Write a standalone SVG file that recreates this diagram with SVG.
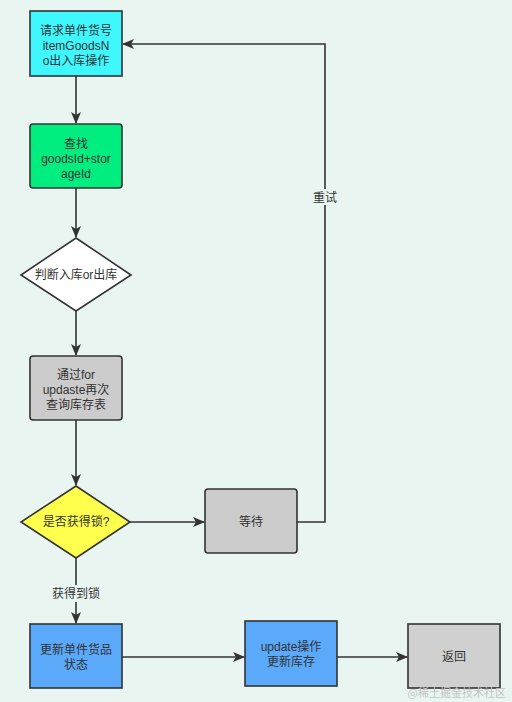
<svg xmlns="http://www.w3.org/2000/svg" width="512" height="702" viewBox="0 0 512 702">
<style>
.n{stroke:#333;stroke-width:1.6}
.t{font-family:"Liberation Sans","Noto Sans CJK SC",sans-serif;font-size:12px;fill:#333;text-anchor:middle}
.c{fill:none;stroke:#333;stroke-width:1.6}
.l{font-family:"Liberation Sans","Noto Sans CJK SC",sans-serif;font-size:12px;fill:#333;text-anchor:middle}
</style>
<defs>
<marker id="ah" markerWidth="12" markerHeight="10" refX="11" refY="5" orient="auto" markerUnits="userSpaceOnUse">
<path d="M0,0 L12,5 L0,10 L3,5 Z" fill="#333"/>
</marker>
</defs>
<rect width="512" height="702" fill="#e9f5f1"/>
<g id="connectors">
<line class="c" x1="76" y1="76" x2="76" y2="123" marker-end="url(#ah)"/>
<line class="c" x1="76" y1="188" x2="76" y2="237" marker-end="url(#ah)"/>
<line class="c" x1="76" y1="311" x2="76" y2="355" marker-end="url(#ah)"/>
<line class="c" x1="76" y1="420" x2="76" y2="485" marker-end="url(#ah)"/>
<line class="c" x1="130" y1="522" x2="204" y2="522" marker-end="url(#ah)"/>
<polyline class="c" points="297,522 325,522 325,44 123,44" marker-end="url(#ah)"/>
<rect x="311" y="189" width="28" height="16" fill="#e9f5f1"/>
<text class="l" x="325" y="202">重试</text>
<line class="c" x1="76" y1="558" x2="76" y2="623" marker-end="url(#ah)"/>
<rect x="51" y="585" width="50" height="17" fill="#e9f5f1"/>
<text class="l" x="76" y="598">获得到锁</text>
<line class="c" x1="122" y1="657" x2="244" y2="657" marker-end="url(#ah)"/>
<line class="c" x1="337" y1="657" x2="407" y2="657" marker-end="url(#ah)"/>
</g>
<g id="n1">
<rect class="n" x="30" y="11" width="92" height="65" fill="#3ff7ff"/>
<text class="t" x="76" y="35">请求单件货号</text>
<text class="t" x="76" y="50">itemGoodsN</text>
<text class="t" x="76" y="65">o出入库操作</text>
</g>
<g id="n2">
<rect class="n" x="30" y="124" width="92" height="64" rx="3" fill="#00ee80"/>
<text class="t" x="76" y="148">查找</text>
<text class="t" x="76" y="163">goodsId+stor</text>
<text class="t" x="76" y="178">ageId</text>
</g>
<g id="n3">
<polygon class="n" points="76,238 131,275 76,311 21,275" fill="#ffffff"/>
<text class="t" x="76" y="279">判断入库or出库</text>
</g>
<g id="n4">
<rect class="n" x="30" y="356" width="92" height="64" rx="3" fill="#cccccc"/>
<text class="t" x="76" y="379">通过for</text>
<text class="t" x="76" y="394">updaste再次</text>
<text class="t" x="76" y="409">查询库存表</text>
</g>
<g id="n5">
<polygon class="n" points="76,486 130,522 76,558 21,522" fill="#ffff4d"/>
<text class="t" x="76" y="526">是否获得锁?</text>
</g>
<g id="n6">
<rect class="n" x="205" y="489" width="92" height="64" rx="3" fill="#cccccc"/>
<text class="t" x="251" y="526">等待</text>
</g>
<g id="n7">
<rect class="n" x="30" y="624" width="92" height="64" fill="#5aa9fa"/>
<text class="t" x="76" y="654">更新单件货品</text>
<text class="t" x="76" y="669">状态</text>
</g>
<g id="n8">
<rect class="n" x="245" y="621" width="92" height="65" fill="#5aa9fa"/>
<text class="t" x="291" y="651">update操作</text>
<text class="t" x="291" y="666">更新库存</text>
</g>
<g id="n9">
<rect class="n" x="408" y="624" width="92" height="64" fill="#d0d0d0"/>
<text class="t" x="454" y="661">返回</text>
</g>
<text x="506" y="697" font-family="Noto Sans CJK SC,sans-serif" font-size="11" fill="#c4c4c4" text-anchor="end">@稀土掘金技术社区</text>
</svg>
